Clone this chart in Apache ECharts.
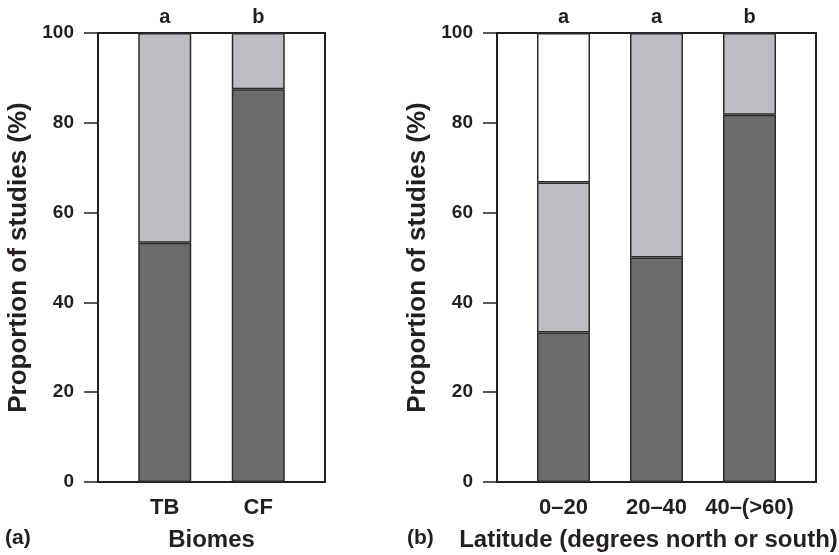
<!DOCTYPE html>
<html>
<head>
<meta charset="utf-8">
<script src="https://cdn.jsdelivr.net/npm/echarts@6/dist/echarts.min.js"></script>
<style>html,body{margin:0;padding:0;background:#fff}#c{width:839px;height:555px}</style>
</head>
<body>
<div id="c"></div>
<script>
// Panel (a)
const biomes = ['TB', 'CF'];
const biomeLetters = ['a', 'b'];
const biomeDark = [53.3, 87.5];
const biomeLight = [46.7, 12.5];
// Panel (b)
const latitudes = ['0\u201320', '20\u201340', '40\u2013(>60)'];
const latLetters = ['a', 'a', 'b'];
const latDark = [33.3, 50, 81.8];
const latLight = [33.4, 50, 18.2];
const latWhite = [33.3, 0, 0];

const FONT = 'Liberation Sans, Arial, sans-serif';
const INK = '#231f20';
const DARK = '#6b6c6e';
const LIGHT = '#bcbdc1';

function frameY(gi) {
  return {
    type: 'value', gridIndex: gi, min: 0, max: 100, interval: 20,
    name: 'Proportion of studies (%)', nameLocation: 'middle', nameGap: 66, nameRotate: 90,
    nameMoveOverlap: false,
    nameTextStyle: { fontFamily: FONT, fontWeight: 'bold', fontSize: 26, color: INK },
    axisLine: { show: true, lineStyle: { color: INK, width: 2 } },
    axisTick: { show: true, inside: false, length: 14, lineStyle: { color: INK, width: 1.5 } },
    axisLabel: { margin: 24, fontFamily: FONT, fontWeight: 'bold', fontSize: 19, color: INK },
    splitLine: { show: false }
  };
}
function hiddenY(gi) {
  return { type: 'value', gridIndex: gi, min: 0, max: 100, show: false, splitLine: { show: false } };
}
function frameX(gi) {
  return { type: 'value', gridIndex: gi, show: false, splitLine: { show: false } };
}
function catBottom(gi, cats, name, namePad) {
  return {
    type: 'category', gridIndex: gi, position: 'bottom', data: cats,
    name: name, nameLocation: 'middle', nameGap: 46, nameMoveOverlap: false,
    nameTextStyle: { fontFamily: FONT, fontWeight: 'bold', fontSize: 24, color: INK, padding: namePad },
    axisLine: { show: false }, axisTick: { show: false }, splitLine: { show: false },
    axisLabel: { margin: 15, interval: 0, fontFamily: FONT, fontWeight: 'bold', fontSize: 22, color: INK }
  };
}
function catTop(gi, letters) {
  return {
    type: 'category', gridIndex: gi, position: 'top', data: letters,
    axisLine: { show: false }, axisTick: { show: false }, splitLine: { show: false },
    axisLabel: { margin: 6, interval: 0, fontFamily: FONT, fontWeight: 'bold', fontSize: 20, color: INK }
  };
}
function bar(name, xi, yi, data, color, stack) {
  return {
    type: 'bar', name: name, xAxisIndex: xi, yAxisIndex: yi, stack: stack, barWidth: 53,
    data: data,
    itemStyle: { color: color, borderColor: '#2b2b2b', borderWidth: 1.5 },
    emphasis: { disabled: true }, animation: false
  };
}

const chart = echarts.init(document.getElementById('c'), null, { renderer: 'canvas' });
chart.setOption({
  animation: false,
  grid: [
    { left: 98, top: 33, width: 227, height: 449, outerBoundsMode: 'none', containLabel: false, show: true, borderColor: INK, borderWidth: 2, backgroundColor: 'transparent' },
    { left: 118, top: 33, width: 187, height: 449, outerBoundsMode: 'none', containLabel: false },
    { left: 497, top: 33, width: 319, height: 449, outerBoundsMode: 'none', containLabel: false, show: true, borderColor: INK, borderWidth: 2, backgroundColor: 'transparent' },
    { left: 517, top: 33, width: 279, height: 449, outerBoundsMode: 'none', containLabel: false }
  ],
  xAxis: [
    frameX(0),
    catBottom(1, biomes, 'Biomes', [0, 0, 0, 0]),
    catTop(1, biomeLetters),
    frameX(2),
    catBottom(3, latitudes, 'Latitude (degrees north or south)', [0, 16, 0, 0]),
    catTop(3, latLetters)
  ],
  yAxis: [frameY(0), hiddenY(1), frameY(2), hiddenY(3)],
  series: [
    bar('dark', 1, 1, biomeDark, DARK, 'a'),
    bar('light', 1, 1, biomeLight, LIGHT, 'a'),
    bar('dark', 4, 3, latDark, DARK, 'b'),
    bar('light', 4, 3, latLight, LIGHT, 'b'),
    bar('white', 4, 3, latWhite, '#ffffff', 'b')
  ],
  graphic: [
    { type: 'text', left: 5, top: 528, style: { text: '(a)', fontFamily: FONT, fontWeight: 'bold', fontSize: 21, fill: INK } },
    { type: 'text', left: 407, top: 528, style: { text: '(b)', fontFamily: FONT, fontWeight: 'bold', fontSize: 21, fill: INK } }
  ]
});
</script>
</body>
</html>
